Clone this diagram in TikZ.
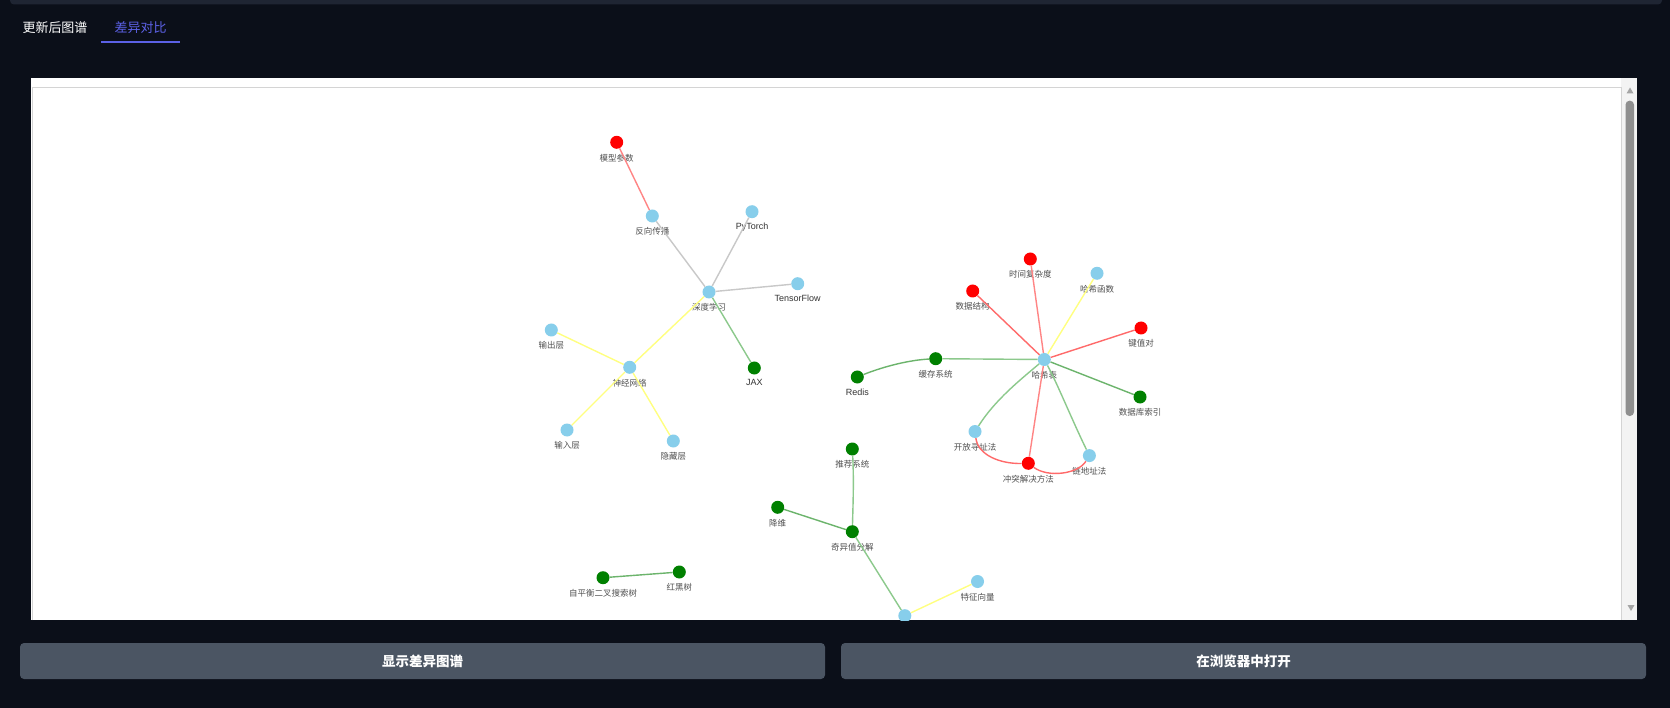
\documentclass[tikz,border=0pt]{standalone}
\usepackage{fontspec}
\setmainfont{Noto Sans CJK SC}
\newfontfamily\latinlab{Liberation Sans}
\definecolor{bgdark}{HTML}{0B0F19}
\definecolor{topbar}{HTML}{1F2533}
\definecolor{tabblue}{HTML}{5C61E6}
\definecolor{btn}{HTML}{4B5563}
\definecolor{nblue}{HTML}{87CEEB}
\definecolor{nred}{HTML}{FF0000}
\definecolor{ngreen}{HTML}{008000}
\definecolor{ered}{HTML}{FF8585}
\definecolor{eredd}{HTML}{FF6A6A}
\definecolor{egreen}{HTML}{8CC98C}
\definecolor{egreend}{HTML}{6CB46C}
\definecolor{eyellow}{HTML}{FFFF80}
\definecolor{egray}{HTML}{C8C8C8}
\definecolor{labgray}{HTML}{505050}
\definecolor{labdark}{HTML}{333333}
\definecolor{frame}{HTML}{D4D4D4}
\definecolor{track}{HTML}{F3F3F3}
\definecolor{thumb}{HTML}{8F8F8F}
\tikzset{
  dot/.style={circle, minimum size=13pt, inner sep=0pt, draw=none},
  bdot/.style={dot, fill=nblue},
  rdot/.style={dot, fill=nred},
  gdot/.style={dot, fill=ngreen},
  lab/.style={font=\fontsize{8.5}{9}\selectfont, text=labgray, inner sep=0pt},
  latlab/.style={font=\latinlab\fontsize{9}{10}\selectfont, text=labdark},
  every label/.style={lab},
  label distance=4.8pt,
  edge/.style={line width=1.4pt},
  redE/.style={edge, draw=ered},
  redD/.style={edge, draw=eredd},
  greenE/.style={edge, draw=egreen},
  greenD/.style={edge, draw=egreend},
  yelE/.style={edge, draw=eyellow},
  grayE/.style={edge, draw=egray},
  tabtxt/.style={font=\fontsize{13}{14}\selectfont, inner sep=0pt},
  btnbox/.style={fill=btn, rounded corners=4pt, minimum width=805pt, minimum height=36pt, inner sep=0pt,
     text=white, font=\bfseries\fontsize{13.5}{15}\selectfont},
}
\begin{document}
\begin{tikzpicture}[x=1pt,y=-1pt]
\useasboundingbox (0,0) rectangle (1670,708);
\fill[bgdark] (0,0) rectangle (1670,708);
\fill[topbar, rounded corners=4pt] (10,-8) rectangle (1662,4.5);
% tabs
\node[tabtxt, text=white] (tab1) at (55,28) {更新后图谱};
\node[tabtxt, text=tabblue] (tab2) at (140.5,28) {差异对比};
\fill[tabblue] (101,41.2) rectangle (180,43);
% panel
\fill[white] (31,78) rectangle (1637,620);
\fill[track] (1621,78) rectangle (1637,620);
\draw[frame, line width=1pt] (32.5,620) -- (32.5,87.5) -- (1621,87.5) -- (1621,620);
\fill[thumb, rounded corners=4pt] (1625.5,100.7) rectangle (1634,416);
\fill[thumb!80] (1626.5,93.5) -- (1633.5,93.5) -- (1630,87.5) -- cycle;
\fill[thumb!80] (1627.5,605) -- (1634.5,605) -- (1631,611) -- cycle;
% buttons
\node[btnbox] (b1) at (422.5,661) {显示差异图谱};
\node[btnbox] (b2) at (1243.5,661) {在浏览器中打开};
\begin{scope}
\clip (33,88) rectangle (1620.5,620);
% deep learning cluster
\node[rdot, label=below:模型参数] (mxcs) at (616.7,142.3) {};
\node[bdot, label={[latlab]below:PyTorch}] (pyt) at (752,211.7) {};
\node[bdot, label=below:反向传播] (fxcb) at (652.3,216) {};
\node[bdot, label={[latlab]below:TensorFlow}] (tf) at (797.7,283.7) {};
\node[bdot, label=below:深度学习] (sdxx) at (709,292) {};
\node[gdot, label={[latlab]below:JAX}] (jax) at (754.3,368) {};
\node[bdot, label=below:输出层] (scc) at (551.3,330) {};
\node[bdot, label=below:神经网络] (sjwl) at (629.7,367.3) {};
\node[bdot, label=below:输入层] (srhc) at (567,430) {};
\node[bdot, label=below:隐藏层] (ycc) at (673.3,441) {};
% hash cluster
\node[rdot, label=below:时间复杂度] (sjfzd) at (1030.3,259) {};
\node[bdot, label=below:哈希函数] (hxhs) at (1097,273.3) {};
\node[rdot, label=below:数据结构] (sjjg) at (972.7,291) {};
\node[rdot, label=below:键值对] (jzd) at (1141,328) {};
\node[bdot, label=below:哈希表] (hxb) at (1044.3,359.5) {};
\node[gdot, label=below:缓存系统] (hcxt) at (935.7,358.7) {};
\node[gdot, label={[latlab]below:Redis}] (redis) at (857.3,377) {};
\node[gdot, label=below:数据库索引] (sjksy) at (1140,397) {};
\node[bdot, label=below:开放寻址法] (kfxz) at (975,431.5) {};
\node[bdot, label=below:链地址法] (ldz) at (1089.4,455.6) {};
\node[rdot, label=below:冲突解决方法] (ctjj) at (1028.3,463.3) {};
% svd cluster
\node[gdot, label=below:推荐系统] (tjxt) at (852.3,449) {};
\node[gdot, label=below:降维] (jw) at (777.7,507.3) {};
\node[gdot, label=below:奇异值分解] (qyz) at (852.3,531.7) {};
\node[bdot, label=below:特征向量] (tzxl) at (977.5,581.5) {};
\node[bdot] (bot) at (904.8,615.7) {};
% tree
\node[gdot, label=below:自平衡二叉搜索树] (zph) at (603,577.7) {};
\node[gdot, label=below:红黑树] (hhs) at (679.3,572) {};
% edges
\draw[redE] (mxcs) -- (fxcb);
\draw[grayE] (fxcb) -- (sdxx);
\draw[grayE] (pyt) -- (sdxx);
\draw[grayE] (tf) -- (sdxx);
\draw[greenE] (sdxx) -- (jax);
\draw[yelE] (sdxx) -- (sjwl);
\draw[yelE] (sjwl) -- (scc);
\draw[yelE] (sjwl) -- (srhc);
\draw[yelE] (sjwl) -- (ycc);
\draw[redE] (hxb) -- (sjfzd);
\draw[yelE] (hxb) -- (hxhs);
\draw[redD] (hxb) -- (sjjg);
\draw[redD] (hxb) -- (jzd);
\draw[greenE] (hxb) -- (hcxt);
\draw[greenD] (redis) .. controls (885,366) and (910,360) .. (hcxt);
\draw[greenD] (hxb) -- (sjksy);
\draw[greenE] (hxb) .. controls (1020,380) and (995,400) .. (kfxz);
\draw[greenE] (hxb) .. controls (1058,385) and (1072,420) .. (ldz);
\draw[redE] (hxb) -- (ctjj);
\draw[redD] (kfxz) .. controls (978,455) and (1000,464) .. (ctjj);
\draw[redD] (ctjj) .. controls (1048,478) and (1078,474) .. (ldz);
\draw[greenE] (tjxt) .. controls (854,480) and (853,505) .. (qyz);
\draw[greenD] (jw) -- (qyz);
\draw[greenE] (qyz) -- (bot);
\draw[yelE] (bot) -- (tzxl);
\draw[greenD] (zph) -- (hhs);
\end{scope}
\end{tikzpicture}
\end{document}
